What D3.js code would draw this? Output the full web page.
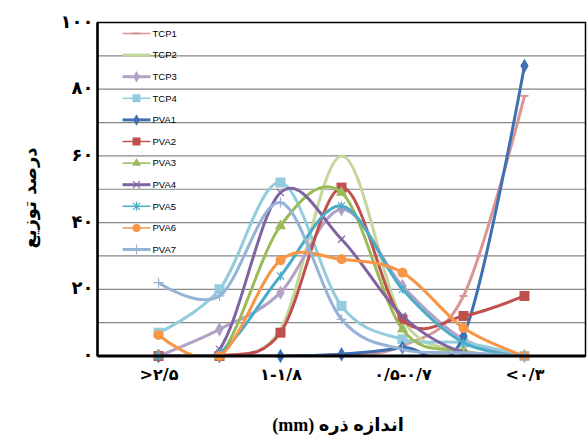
<!DOCTYPE html>
<meta charset="utf-8">
<style>
  body { margin: 0; background: #fff; }
  svg { display: block; }
</style>
<body>
<div id="chart"></div>
<script src="https://d3js.org/d3.v7.min.js"></script>
<script>
  // size classes, from coarse to fine
  var xLabels = [">۲/۵", "۱-۱/۸", "۰/۵-۰/۷", "<۰/۳"];
  var xLabelAt = [1, 3, 5, 7];
  var yTicks = [0, 20, 40, 60, 80, 100];

  var names = ["TCP1", "TCP2", "TCP3", "TCP4", "PVA1", "PVA2", "PVA3", "PVA4", "PVA5", "PVA6", "PVA7"];
  var TCP1 = [0, 0, 0, 0.5, 3, 18, 78];
  var TCP2 = [0, 0, 8, 60, 11, 1.5, 0];
  var TCP3 = [0, 8, 19, 44, 21, 5, 0];
  var TCP4 = [7, 20, 52, 15, 5, 4, 0];
  var PVA1 = [0, 0, 0, 0.5, 2.5, 6, 87];
  var PVA2 = [0, 0, 7, 50.5, 11, 12, 18];
  var PVA3 = [0, 0, 39, 49, 8, 1.5, 0];
  var PVA4 = [0, 2, 49, 35, 12, 1, 0];
  var PVA5 = [0, 1, 24, 45, 20, 4, 0];
  var PVA6 = [6.3, 0, 28.7, 29, 25, 8.4, 0];
  var PVA7 = [22, 18, 46, 11, 2, 1, 0];
  var values = [TCP1, TCP2, TCP3, TCP4, PVA1, PVA2, PVA3, PVA4, PVA5, PVA6, PVA7];

  var colors = ["#d99694", "#c3d69b", "#b3a2c7", "#93cddd", "#3f70b2", "#c0504d",
                "#9bbb59", "#8064a2", "#4bacc6", "#f79646", "#95b3d7"];
  var markers = ["dash", "none", "diamond", "square", "diamond", "square",
                 "triangle", "cross", "star", "circle", "plus"];
  var legendWidth = [1.5, 3, 3, 1.5, 3, 1.5, 1.5, 3, 1.5, 1.5, 3];

  var W = 588, H = 437;
  var margin = {top: 22.5, right: 2.5, bottom: 81, left: 97.5},
    width = W - margin.left - margin.right,
    height = H - margin.top - margin.bottom;

  function fa(n) {
    return String(n).replace(/\d/g, function(d) { return "۰۱۲۳۴۵۶۷۸۹"[d]; });
  }

  var x = d3.scaleLinear().domain([0, 8]).range([0, width]);
  var y = d3.scaleLinear().domain([0, 100]).range([height, 0]);

  var svg = d3.select("#chart").append("svg")
    .attr("width", W)
    .attr("height", H);

  var g = svg.append("g")
    .attr("transform", "translate(" + margin.left + "," + margin.top + ")");

  // grid
  g.selectAll(".grid")
    .data(d3.range(10, 100, 10))
    .enter().append("line")
    .attr("x1", 0).attr("x2", width)
    .attr("y1", function(d) { return y(d); })
    .attr("y2", function(d) { return y(d); })
    .style("stroke", "#868686")
    .style("stroke-width", 1.2);

  // border
  g.append("rect")
    .attr("width", width).attr("height", height)
    .style("fill", "none")
    .style("stroke", "#000")
    .style("stroke-width", 1.5);

  // y axis
  var yAxis = d3.axisLeft(y).tickValues(yTicks).tickSize(0).tickPadding(4).tickFormat(fa);
  var ya = g.append("g").call(yAxis);
  ya.select(".domain").remove();
  ya.selectAll("text")
    .style("font-family", "'DejaVu Sans'")
    .style("font-weight", "bold")
    .style("font-size", "18px")
    .attr("dy", "0.25em");

  // x axis labels
  var xAxis = d3.axisBottom(x).tickValues(xLabelAt).tickSize(0).tickPadding(13)
    .tickFormat(function(d, i) { return xLabels[i]; });
  var xa = g.append("g").attr("transform", "translate(0," + height + ")").call(xAxis);
  xa.select(".domain").remove();
  xa.selectAll("text")
    .style("font-family", "'DejaVu Sans'")
    .style("font-weight", "bold")
    .style("font-size", "16px")
    .style("direction", "ltr");

  // legend
  var legend = g.selectAll(".legend")
    .data(names)
    .enter().append("g")
    .attr("transform", function(d, i) { return "translate(25," + (11 + i * 21.6) + ")"; });

  legend.append("line")
    .attr("x1", 0).attr("x2", 28)
    .style("stroke", function(d, i) { return colors[i]; })
    .style("stroke-width", function(d, i) { return legendWidth[i]; });

  legend.append("text")
    .attr("x", 30).attr("dy", "0.35em")
    .style("font-family", "'Liberation Sans', Arial, sans-serif")
    .style("font-size", "9.5px")
    .text(function(d) { return d; });

  // clip for curves
  svg.append("defs").append("clipPath").attr("id", "clip")
    .append("rect").attr("x", 0).attr("y", 0).attr("width", width).attr("height", height);

  var line = d3.line()
    .x(function(d, i) { return x(i + 1); })
    .y(function(d) { return y(d); })
    .curve(d3.curveCatmullRom.alpha(0));

  function drawMarker(sel, type, color, s) {
    if (type === "none") return;
    if (type === "square") {
      sel.append("rect").attr("x", -s / 2).attr("y", -s / 2).attr("width", s).attr("height", s)
        .style("fill", color);
    } else if (type === "circle") {
      sel.append("circle").attr("r", s / 2).style("fill", color);
    } else if (type === "diamond") {
      sel.append("path").attr("d", d3.symbol(d3.symbolDiamond, s * s * 0.6)).style("fill", color);
    } else if (type === "triangle") {
      sel.append("path").attr("d", d3.symbol(d3.symbolTriangle, s * s * 0.55)).style("fill", color);
    } else if (type === "dash") {
      sel.append("line").attr("x1", -4).attr("x2", 4)
        .style("stroke", color).style("stroke-width", 2);
    } else if (type === "cross") {
      sel.append("path").attr("d", "M-3.5,-3.5L3.5,3.5M-3.5,3.5L3.5,-3.5")
        .style("stroke", color).style("stroke-width", 1.2);
    } else if (type === "star") {
      sel.append("path").attr("d", "M-3.5,-3.5L3.5,3.5M-3.5,3.5L3.5,-3.5M0,-4.5L0,4.5")
        .style("stroke", color).style("stroke-width", 1.2);
    } else if (type === "plus") {
      sel.append("path").attr("d", "M-5,0L5,0M0,-5L0,5")
        .style("stroke", color).style("stroke-width", 1.2);
    }
  }

  // legend markers
  legend.each(function(d, i) {
    var m = d3.select(this).append("g").attr("transform", "translate(14,0)");
    drawMarker(m, markers[i], colors[i], 8);
  });

  // series
  values.forEach(function(vals, k) {
    var sg = g.append("g");
    sg.append("path")
      .datum(vals)
      .attr("clip-path", "url(#clip)")
      .attr("d", line)
      .style("fill", "none")
      .style("stroke", colors[k])
      .style("stroke-width", 3);
    sg.selectAll(".pt")
      .data(vals)
      .enter().append("g")
      .attr("transform", function(d, i) { return "translate(" + x(i + 1) + "," + y(d) + ")"; })
      .each(function() { drawMarker(d3.select(this), markers[k], colors[k], 10); });
  });

  // thick axes lines
  g.append("line").attr("x1", 0).attr("x2", 0).attr("y1", 0).attr("y2", height)
    .style("stroke", "#000").style("stroke-width", 2.5);
  g.append("line").attr("x1", 0).attr("x2", width).attr("y1", height).attr("y2", height)
    .style("stroke", "#000").style("stroke-width", 3);

  // axis titles
  svg.append("text")
    .attr("transform", "translate(36,198) rotate(-90)")
    .attr("text-anchor", "middle")
    .style("direction", "rtl")
    .style("font-family", "'DejaVu Sans'")
    .style("font-weight", "bold")
    .style("font-size", "18px")
    .text("درصد توزیع");

  svg.append("text")
    .attr("x", 338).attr("y", 431)
    .attr("text-anchor", "middle")
    .style("direction", "rtl")
    .style("font-family", "'Liberation Serif', 'DejaVu Sans'")
    .style("font-weight", "bold")
    .style("font-size", "18px")
    .text("اندازه ذره (mm)");
</script>
</body>
